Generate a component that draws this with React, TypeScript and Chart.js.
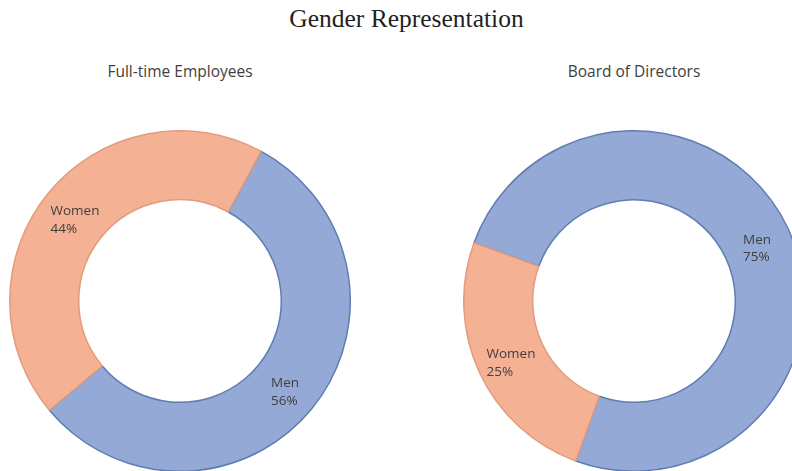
import React, { useEffect, useRef } from "react";
import { Chart, registerables } from "chart.js";

Chart.register(...registerables);

const mainTitle = "Gender Representation";
const categories = ["Men", "Women"];
const employeeValues = [56, 44];
const boardValues = [75, 25];
const panelTitles = ["Full-time Employees", "Board of Directors"];
const panelRotations = [28.5, 290];

const fillColors = ["#95A9D6", "#F4B194"];
const borderColors = ["#5E7DB2", "#E29C7C"];

const RADIUS = 171;

const ringLabels = {
  id: "ringLabels",
  afterDatasetsDraw(chart: any) {
    const ctx = chart.ctx;
    const meta = chart.getDatasetMeta(0);
    const ds = chart.data.datasets[0];
    ctx.save();
    ctx.font = "13.5px 'Open Sans'";
    ctx.fillStyle = "#404040";
    ctx.textBaseline = "middle";
    ctx.textAlign = "left";
    meta.data.forEach((arc: any, i: number) => {
      const p = arc.getCenterPoint();
      const lines = [String(chart.data.labels[i]), ds.data[i] + "%"];
      const w = Math.max(...lines.map((l) => ctx.measureText(l).width));
      const lh = 17.5;
      const x0 = p.x - w / 2;
      const y0 = p.y + 5 - lh / 2;
      lines.forEach((l, k) => ctx.fillText(l, x0, y0 + k * lh));
    });
    ctx.restore();
  },
};

function Donut({ values, rotation }: { values: number[]; rotation: number }) {
  const ref = useRef<HTMLCanvasElement>(null);
  useEffect(() => {
    const chart = new Chart(ref.current as HTMLCanvasElement, {
      type: "doughnut",
      data: {
        labels: categories,
        datasets: [
          {
            data: values,
            backgroundColor: fillColors,
            borderColor: borderColors,
            borderWidth: 1.5,
          },
        ],
      },
      options: {
        responsive: false,
        animation: false,
        rotation: rotation,
        cutout: "59.5%",
        layout: { padding: 0 },
        plugins: {
          legend: { display: false },
          tooltip: { enabled: false },
          title: { display: false },
        },
      },
      plugins: [ringLabels],
    });
    return () => chart.destroy();
  }, [values, rotation]);
  return <canvas ref={ref} width={RADIUS * 2} height={RADIUS * 2} />;
}

export default function App() {
  useEffect(() => {
    document.body.style.margin = "0";
  }, []);
  const centers = [
    { x: 180, y: 301 },
    { x: 634, y: 301 },
  ];
  const allValues = [employeeValues, boardValues];
  return (
    <div
      style={{
        position: "relative",
        width: 792,
        height: 471,
        overflow: "hidden",
        background: "#fff",
      }}
    >
      <div
        style={{
          position: "absolute",
          left: 0,
          top: 4,
          width: 813,
          textAlign: "center",
          fontFamily: "'Liberation Serif', serif",
          fontSize: 25.5,
          color: "#1F1F1F",
          lineHeight: "30px",
        }}
      >
        {mainTitle}
      </div>
      {centers.map((c, i) => (
        <React.Fragment key={i}>
          <div
            style={{
              position: "absolute",
              left: c.x - 150,
              top: 60,
              width: 300,
              textAlign: "center",
              fontFamily: "'Open Sans', sans-serif",
              fontSize: 15.5,
              color: "#404040",
              lineHeight: "22px",
            }}
          >
            {panelTitles[i]}
          </div>
          <div
            style={{
              position: "absolute",
              left: c.x - RADIUS,
              top: c.y - RADIUS,
              width: RADIUS * 2,
              height: RADIUS * 2,
            }}
          >
            <Donut values={allValues[i]} rotation={panelRotations[i]} />
          </div>
        </React.Fragment>
      ))}
    </div>
  );
}
